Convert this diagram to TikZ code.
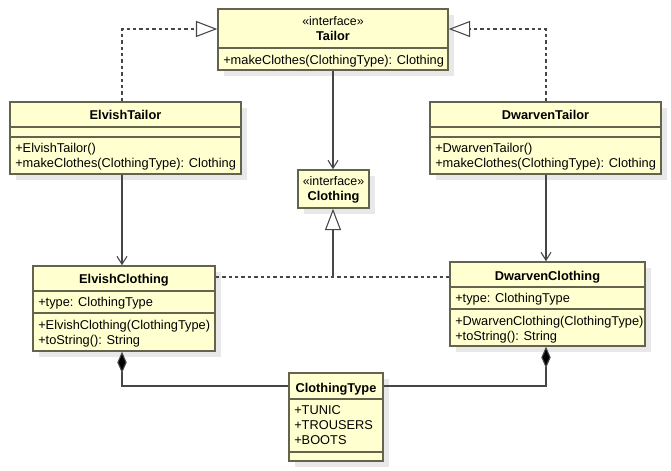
\documentclass[tikz,border=0pt]{standalone}
\usepackage{fontspec}
\setmainfont{Liberation Sans}
\usetikzlibrary{arrows.meta,fit,shadows}
\definecolor{boxfill}{RGB}{255,255,208}
\definecolor{boxline}{RGB}{100,100,78}
\definecolor{conn}{RGB}{70,70,70}
\tikzset{
  cls/.style={draw=boxline, fill=boxfill, line width=1.1pt, inner sep=0pt,
    drop shadow={shadow xshift=4.5pt, shadow yshift=-4.5pt, fill=black!9, opacity=1}},
  sep/.style={draw=boxline, line width=1.1pt},
  txt/.style={font=\fontsize{9.6}{11}\selectfont, inner sep=0pt, anchor=base west},
  ttl/.style={font=\fontsize{9.6}{11}\selectfont\bfseries, inner sep=0pt, anchor=base},
  ster/.style={font=\fontsize{9.3}{11}\selectfont, inner sep=0pt, anchor=base},
  real/.style={draw=conn, line width=0.8pt, dash pattern=on 2.6pt off 2.2pt},
  solidc/.style={draw=conn, line width=0.8pt},
  gen/.style={-{Triangle[open,length=16pt,width=12pt,fill=white]}},
  nav/.style={-{Straight Barb[length=6pt,width=7.5pt,line width=0.8pt]}},
  comp/.style={{Diamond[length=16pt,width=7pt,fill=black]}-}
}
\begin{document}
\begin{tikzpicture}[x=0.75pt,y=-0.75pt]
\useasboundingbox (0,0) rectangle (671,471);

% ---- Tailor ----
\node[cls, fit={(218,9) (448,70)}] (T) {};
\draw[sep] (218,48) -- (448,48);
\node[ster] (T1) at (333,26) {«interface»};
\node[ttl] (T2) at (333,40.5) {Tailor};
\node[txt] (T3) at (223,64) {+makeClothes(ClothingType): Clothing};

% ---- ElvishTailor ----
\node[cls, fit={(10,102) (241,174)}] (ET) {};
\draw[sep] (10,127) -- (241,127);
\draw[sep] (10,137) -- (241,137);
\node[ttl] (ET1) at (125.5,119.5) {ElvishTailor};
\node[txt] (ET2) at (15,152) {+ElvishTailor()};
\node[txt] (ET3) at (15,167.5) {+makeClothes(ClothingType): Clothing};

% ---- DwarvenTailor ----
\node[cls, fit={(430,102) (661,174)}] (DT) {};
\draw[sep] (430,127) -- (661,127);
\draw[sep] (430,137) -- (661,137);
\node[ttl] (DT1) at (545.5,119.5) {DwarvenTailor};
\node[txt] (DT2) at (435,152) {+DwarvenTailor()};
\node[txt] (DT3) at (435,167.5) {+makeClothes(ClothingType): Clothing};

% ---- Clothing ----
\node[cls, fit={(298,170) (369,208)}] (C) {};
\node[ster] (C1) at (333.5,185) {«interface»};
\node[ttl] (C2) at (333.5,200.5) {Clothing};

% ---- ElvishClothing ----
\node[cls, fit={(33,266) (215,351)}] (EC) {};
\draw[sep] (33,291) -- (215,291);
\draw[sep] (33,313) -- (215,313);
\node[ttl] (EC1) at (124,283.5) {ElvishClothing};
\node[txt] (EC2) at (38,306.5) {+type: ClothingType};
\node[txt] (EC3) at (38,329.5) {+ElvishClothing(ClothingType)};
\node[txt] (EC4) at (38,344.5) {+toString(): String};

% ---- DwarvenClothing ----
\node[cls, fit={(450,262) (645,346)}] (DC) {};
\draw[sep] (450,287) -- (645,287);
\draw[sep] (450,309) -- (645,309);
\node[ttl] (DC1) at (547.5,280.5) {DwarvenClothing};
\node[txt] (DC2) at (455,302.5) {+type: ClothingType};
\node[txt] (DC3) at (455,325.5) {+DwarvenClothing(ClothingType)};
\node[txt] (DC4) at (455,340.5) {+toString(): String};

% ---- ClothingType ----
\node[cls, fit={(289,373) (383,461)}] (CT) {};
\draw[sep] (289,399) -- (383,399);
\draw[sep] (289,452) -- (383,452);
\node[ttl] (CT1) at (336,392.5) {ClothingType};
\node[txt] (CT2) at (294,414.5) {+TUNIC};
\node[txt] (CT3) at (294,429.5) {+TROUSERS};
\node[txt] (CT4) at (294,444.5) {+BOOTS};

% ---- connectors ----
\coordinate (kL) at (122,29);
\coordinate (kR) at (546,29);
\coordinate (j) at (333,277);
\coordinate (cL) at (122,386);
\coordinate (cR) at (546,386);

\draw[real, gen] (ET.north -| kL) -- (kL) -- (T.west |- kL);
\draw[real, gen] (DT.north -| kR) -- (kR) -- (T.east |- kR);

\draw[solidc, nav] (T.south -| j) -- (C.north -| j);
\draw[solidc, nav] (ET.south -| kL) -- (EC.north -| kL);
\draw[solidc, nav] (DT.south -| kR) -- (DC.north -| kR);

\draw[real] (EC.east |- j) -- (DC.west |- j);
\draw[solidc, gen] (j) -- (C.south -| j);

\draw[solidc, comp] (EC.south -| cL) -- (cL) -- (CT.west |- cL);
\draw[solidc, comp] (DC.south -| cR) -- (cR) -- (CT.east |- cR);
\end{tikzpicture}
\end{document}
